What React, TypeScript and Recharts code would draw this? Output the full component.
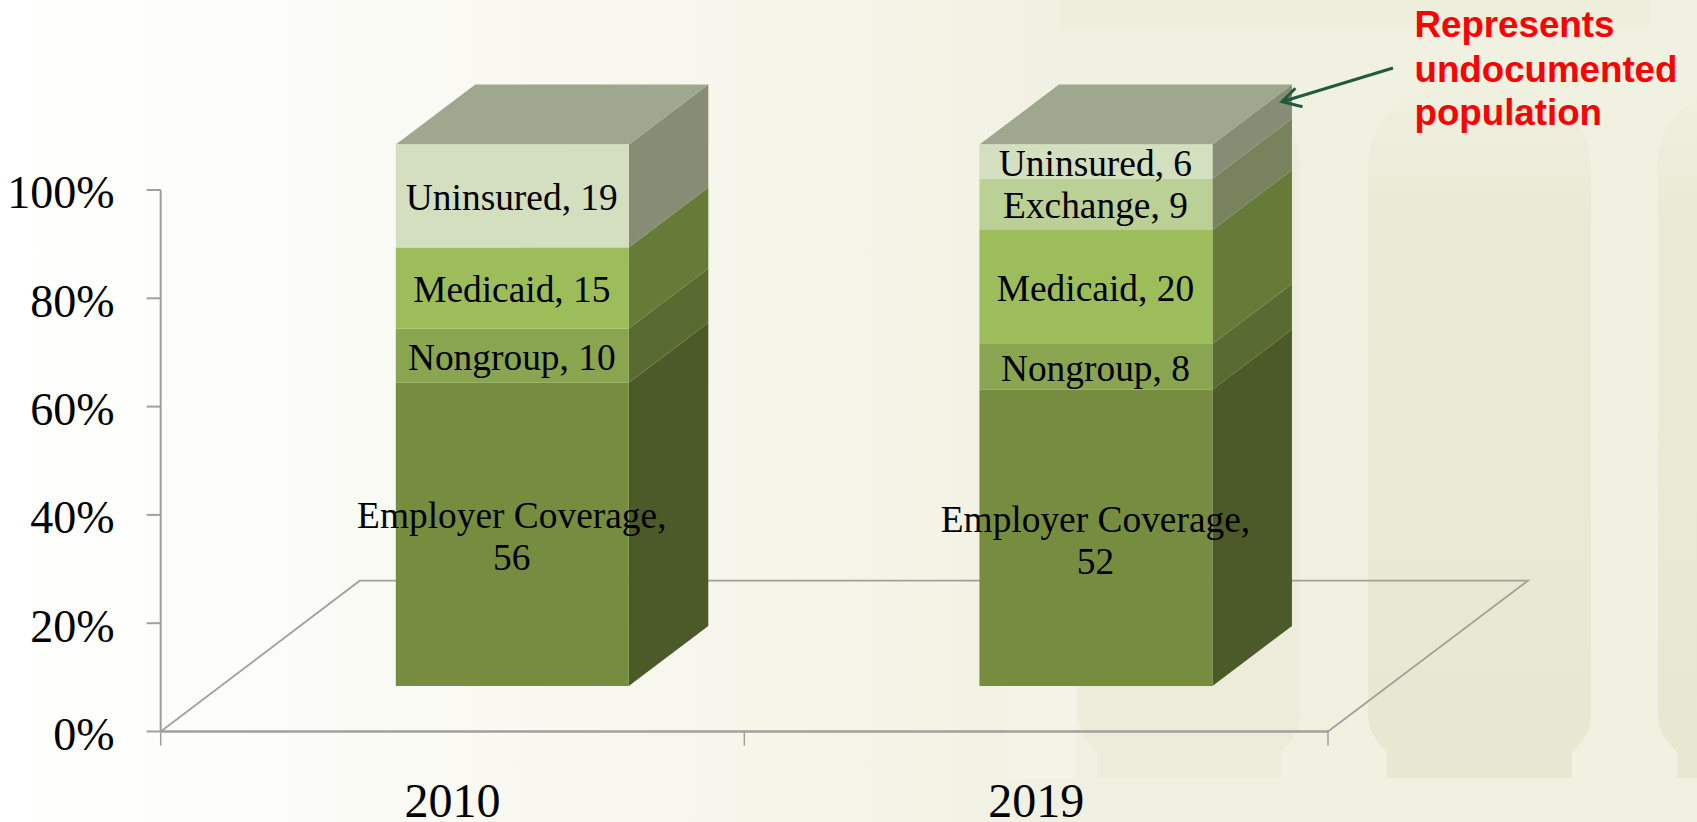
import React from 'react'
import { BarChart, XAxis, YAxis, Bar, LabelList } from 'recharts';

const categories = ['2010', '2019'];
const employer = [56, 52];
const nongroup = [10, 8];
const medicaid = [15, 20];
const exchange = [null, 9];
const uninsured = [19, 6];
const yTicks = [0, 0.2, 0.4, 0.6, 0.8, 1];

const data = categories.map((year, i) => ({
    year,
    employer: employer[i],
    nongroup: nongroup[i],
    medicaid: medicaid[i],
    exchange: exchange[i],
    uninsured: uninsured[i],
}));

// fake 3D: the columns sit back from the axis plane, then get a side and top face
const SHIFT_X = 60;
const SHIFT_Y = -45.5;
const DEPTH_X = 79.5;
const DEPTH_Y = -60;

const PLOT_LEFT = 160.7;
const PLOT_RIGHT = 1328;
const BAND = (PLOT_RIGHT - PLOT_LEFT) / categories.length;

const AXIS_GREY = '#a0a09c';
const TOP_FACE = '#9fa88f';

const Box = (props: any) => {
    const { x, y, width, height, fill, side, top } = props;
    if (!height) return null;
    const left = x + SHIFT_X;
    const right = left + width;
    const upper = y + SHIFT_Y;
    const lower = upper + height;
    return (
        <g>
            <polygon
                points={`${right},${upper} ${right + DEPTH_X},${upper + DEPTH_Y} ${right + DEPTH_X},${lower + DEPTH_Y} ${right},${lower}`}
                fill={side}
            />
            {top && (
                <polygon
                    points={`${left},${upper} ${left + DEPTH_X},${upper + DEPTH_Y} ${right + DEPTH_X},${upper + DEPTH_Y} ${right},${upper}`}
                    fill={TOP_FACE}
                />
            )}
            <rect x={left} y={upper} width={width} height={height} fill={fill} />
        </g>
    );
};

const segmentLabel = (name: string, wrap: boolean) => (props: any) => {
    const { x, y, width, height, value } = props;
    if (value === null || value === undefined) return null;
    const cx = x + SHIFT_X + width / 2 - 0.5;
    const cy = y + SHIFT_Y + height / 2;
    const style = { fontFamily: '"Liberation Serif"', fontSize: 37.4, fill: '#000' };
    if (wrap) {
        return (
            <text textAnchor="middle" style={style}>
                <tspan x={cx} y={cy - 6}>{name},</tspan>
                <tspan x={cx} y={cy + 36}>{value}</tspan>
            </text>
        );
    }
    return (
        <text x={cx} y={cy + 14} textAnchor="middle" style={style}>
            {name}, {value}
        </text>
    );
};

// labels stay in the middle of the band, the tick marks go on the band edges
const YearTick = (props: any) => {
    const { x, y, payload, index } = props;
    const edge = x - BAND / 2;
    return (
        <g>
            <line x1={edge} x2={edge} y1={y} y2={y + 14} stroke={AXIS_GREY} strokeWidth={1.5} />
            {index === categories.length - 1 && (
                <line x1={x + BAND / 2} x2={x + BAND / 2} y1={y} y2={y + 14} stroke={AXIS_GREY} strokeWidth={1.5} />
            )}
            <text x={x} y={y + 85.5} textAnchor="middle" fill="#000" fontSize={48} fontFamily='"Liberation Serif"'>
                {payload.value}
            </text>
        </g>
    );
};

const columnPath = (x0: number, x1: number) =>
    `M${x0},${170} Q${x0},${85} ${(x0 + x1) / 2},${85} Q${x1},${85} ${x1},${170}
     L${x1},${715} Q${x1},${735} ${x1 - 19},${752} L${x1 - 19},${778} L${x0 + 19},${778} L${x0 + 19},${752} Q${x0},${735} ${x0},${715} Z`;

const Backdrop = () => (
    <svg width={1697} height={822} style={{ position: 'absolute', left: 0, top: 0 }}>
        <defs>
            <linearGradient id="wash" x1="0" x2="1" y1="0" y2="0">
                <stop offset="0" stopColor="#ffffff" />
                <stop offset="0.25" stopColor="#fafaf4" />
                <stop offset="0.5" stopColor="#f4f4e8" />
                <stop offset="0.62" stopColor="#f1f1e3" />
                <stop offset="1" stopColor="#f1f1e1" />
            </linearGradient>
            <linearGradient id="shaft" x1="0" x2="0" y1="0" y2="1">
                <stop offset="0" stopColor="#f0f0e0" />
                <stop offset="0.2" stopColor="#e9e9d5" />
                <stop offset="1" stopColor="#e8e8d2" />
            </linearGradient>
        </defs>
        <rect width={1697} height={822} fill="url(#wash)" />
        <rect x={1060} y={0} width={590} height={28} fill="#eeeedd" />
        <rect x={1005} y={640} width={70} height={138} fill="#f3f3e8" />
        <path d={columnPath(1078, 1300)} fill="#edecdb" />
        <path d={columnPath(1368, 1591)} fill="url(#shaft)" />
        <path d={columnPath(1658, 1880)} fill="url(#shaft)" />
    </svg>
);

const App = () => {
    return (
        <div style={{ position: 'absolute', left: 0, top: 0, width: 1697, height: 822, overflow: 'hidden' }}>
            <Backdrop />
            <div style={{ position: 'absolute', left: 0, top: 0 }}>
                <BarChart
                    width={1697}
                    height={822}
                    data={data}
                    stackOffset="expand"
                    barCategoryGap="30%"
                    margin={{ top: 190, right: 369, bottom: 0, left: 0 }}
                >
                    <polyline
                        points="160.7,731.5 359.7,580.7 1528,580.7 1328,731.5"
                        fill="none"
                        stroke={AXIS_GREY}
                        strokeWidth={1.8}
                    />
                    <XAxis
                        dataKey="year"
                        height={90.5}
                        tickLine={false}
                        tickSize={0}
                        tickMargin={0}
                        stroke={AXIS_GREY}
                        strokeWidth={2.5}
                        tick={<YearTick />}
                    />
                    <YAxis
                        width={160.7}
                        domain={[0, 1]}
                        ticks={yTicks}
                        tickSize={14}
                        tickMargin={32}
                        stroke={AXIS_GREY}
                        strokeWidth={2}
                        tickFormatter={(v: number) => `${Math.round(v * 100)}%`}
                        tick={{ fill: '#000', fontSize: 46, fontFamily: '"Liberation Serif"', dy: 2 }}
                    />
                    <Bar dataKey="employer" stackId="a" fill="#768d40" isAnimationActive={false}
                        shape={(p: any) => <Box {...p} side="#4b5a28" />}>
                        <LabelList dataKey="employer" content={segmentLabel('Employer Coverage', true)} />
                    </Bar>
                    <Bar dataKey="nongroup" stackId="a" fill="#8aa54f" isAnimationActive={false}
                        shape={(p: any) => <Box {...p} side="#5a6b32" />}>
                        <LabelList dataKey="nongroup" content={segmentLabel('Nongroup', false)} />
                    </Bar>
                    <Bar dataKey="medicaid" stackId="a" fill="#9dbd5a" isAnimationActive={false}
                        shape={(p: any) => <Box {...p} side="#667b38" />}>
                        <LabelList dataKey="medicaid" content={segmentLabel('Medicaid', false)} />
                    </Bar>
                    <Bar dataKey="exchange" stackId="a" fill="#bad094" isAnimationActive={false}
                        shape={(p: any) => <Box {...p} side="#78825c" />}>
                        <LabelList dataKey="exchange" content={segmentLabel('Exchange', false)} />
                    </Bar>
                    <Bar dataKey="uninsured" stackId="a" fill="#d3dfbe" isAnimationActive={false}
                        shape={(p: any) => <Box {...p} side="#878d75" top />}>
                        <LabelList dataKey="uninsured" content={segmentLabel('Uninsured', false)} />
                    </Bar>
                </BarChart>
            </div>
            <svg width={1697} height={822} style={{ position: 'absolute', left: 0, top: 0, pointerEvents: 'none' }}>
                <polyline points="1393,68 1282,101.7" fill="none" stroke="#1f5c3f" strokeWidth={3} />
                <polyline points="1295.4,88.3 1282,101.7 1302.5,106.7" fill="none" stroke="#1f5c3f" strokeWidth={3} />
                <g fill="#ff0000" fontFamily='"Liberation Sans"' fontWeight="bold" fontSize={36.7}>
                    <text x={1414.5} y={37}>Represents</text>
                    <text x={1414.5} y={82}>undocumented</text>
                    <text x={1414.5} y={125}>population</text>
                </g>
            </svg>
        </div>
    );
}

export default App;
